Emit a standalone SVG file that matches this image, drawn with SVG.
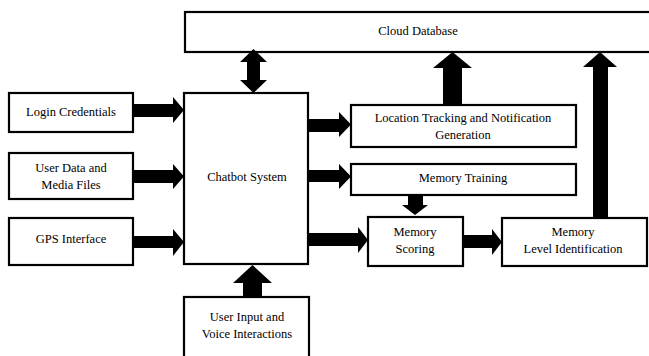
<svg xmlns="http://www.w3.org/2000/svg" width="649" height="356" viewBox="0 0 649 356">
<style>
.box{fill:#fff;stroke:#000;stroke-width:2.2}
.t{font-family:'Liberation Serif','Times New Roman','DejaVu Serif',serif;font-size:12.5px;fill:#000;text-anchor:middle}
.a{fill:#000;stroke:none}
</style>
<rect width="649" height="356" fill="#fff"/>
<g id="cloud"><rect class="box" x="185" y="12" width="480" height="40"/><text class="t" x="418" y="35">Cloud Database</text></g>
<g id="login"><rect class="box" x="9" y="93" width="124" height="39"/><text class="t" x="71" y="116">Login Credentials</text></g>
<g id="userdata"><rect class="box" x="9" y="153" width="124" height="46"/><text class="t" x="71" y="172">User Data and</text><text class="t" x="71" y="189">Media Files</text></g>
<g id="gps"><rect class="box" x="9" y="218" width="124" height="47"/><text class="t" x="71" y="243">GPS Interface</text></g>
<g id="chatbot"><rect class="box" x="184" y="93" width="124" height="171"/><text class="t" x="247" y="181">Chatbot System</text></g>
<g id="userinput"><rect class="box" x="184" y="297" width="125" height="70"/><text class="t" x="247" y="321">User Input and</text><text class="t" x="247" y="338">Voice Interactions</text></g>
<g id="location"><rect class="box" x="351" y="105" width="225" height="42"/><text class="t" x="463" y="122">Location  Tracking and Notification</text><text class="t" x="463" y="139">Generation</text></g>
<g id="training"><rect class="box" x="351" y="164" width="225" height="31"/><text class="t" x="463" y="182">Memory Training</text></g>
<g id="scoring"><rect class="box" x="368" y="217" width="95" height="49"/><text class="t" x="415" y="236">Memory</text><text class="t" x="415" y="253">Scoring</text></g>
<g id="level"><rect class="box" x="502" y="218" width="145" height="48"/><text class="t" x="573" y="236">Memory</text><text class="t" x="573" y="253">Level Identification</text></g>
<g id="connectors">
<polygon class="a" points="133,104 173,104 173,97 184,110 173,123 173,117 133,117"/>
<polygon class="a" points="133,170 173,170 173,164 184,176.5 173,189 173,183 133,183"/>
<polygon class="a" points="133,236 173,236 173,229 184,242 173,256 173,248 133,248"/>
<polygon class="a" points="309,119 339,119 339,112 351,124.5 339,137 339,132 309,132"/>
<polygon class="a" points="309,170 339,170 339,164 351,176.5 339,189 339,182 309,182"/>
<polygon class="a" points="309,233 358,233 358,227 368,240 358,253 358,246 309,246"/>
<polygon class="a" points="463,235 492,235 492,229 502,242 492,255 492,248 463,248"/>
<polygon class="a" points="247,62 240,62 253.5,49 267,62 260,62 260,80 267,80 253.5,93 240,80 247,80"/>
<polygon class="a" points="243,297 243,283 233,283 252.5,265 272,283 262,283 262,297"/>
<polygon class="a" points="443,105 443,68 433,68 452.5,52 472,68 462,68 462,105"/>
<polygon class="a" points="593,218 593,67 583,67 600,52 617,67 608,67 608,218"/>
<polygon class="a" points="408,195 408,205 402,205 415,215 428,205 423,205 423,195"/>
</g>
</svg>
